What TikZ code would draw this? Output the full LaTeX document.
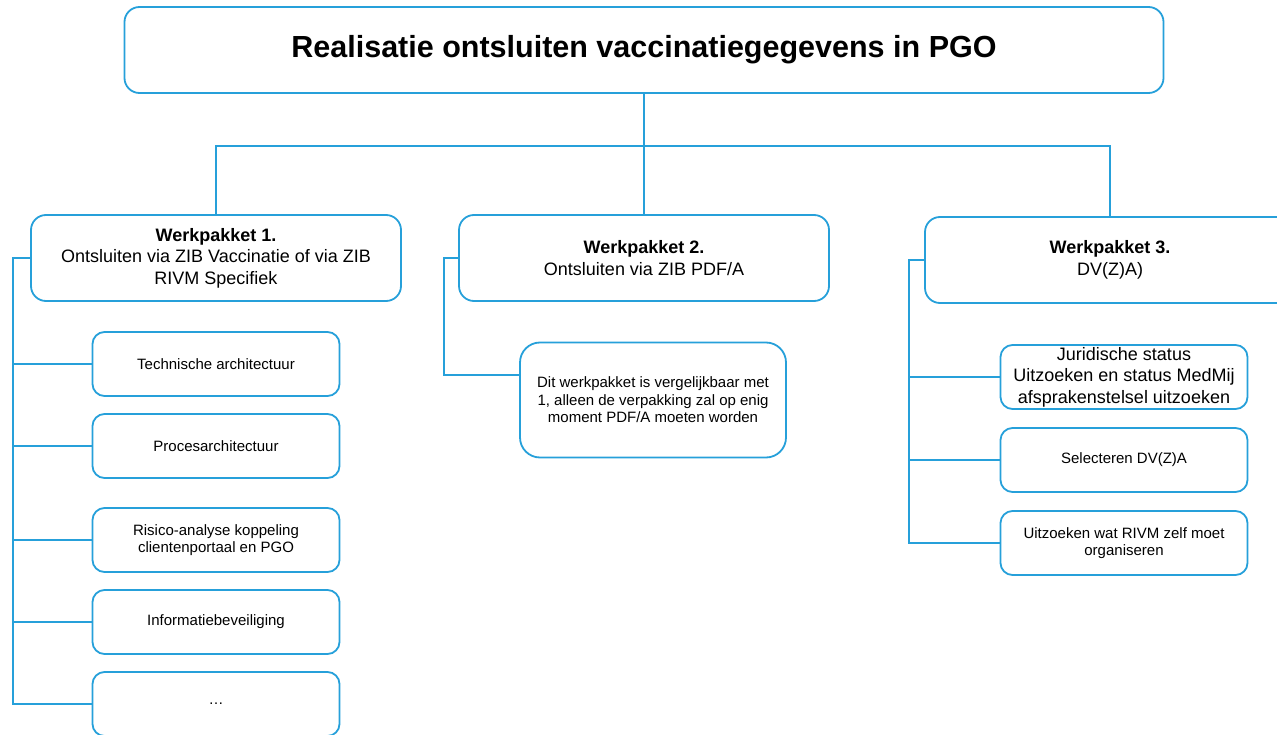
\documentclass[tikz,border=0pt]{standalone}
\usepackage{fontspec}
\setmainfont{Liberation Sans}
\usepackage{xcolor}
\usepackage{tikz}
\definecolor{smartblue}{RGB}{38,160,218}

\begin{document}
\begin{tikzpicture}[x=1pt,y=-1pt,thick,
                      every node/.style={draw=smartblue,line width=1.8pt,fill=white,align=center,inner sep=0pt},
                      title node/.style={rounded corners=15pt,minimum width=1039pt,minimum height=86pt,font=\fontsize{30.5}{36}\selectfont\bfseries},
                      pakket node/.style={rounded corners=15pt,minimum width=370pt,minimum height=86pt,font=\fontsize{18}{21.5}\selectfont},
                      task node/.style={rounded corners=12pt,minimum width=247pt,minimum height=64pt,font=\fontsize{15}{17.5}\selectfont},
                      link/.style={draw=smartblue,line width=1.8pt}]

    \useasboundingbox (0,0) rectangle (1277,735);
    \clip (0,0) rectangle (1277,735);

    % top level
    \node[title node] (title) at (644,50) {Realisatie ontsluiten vaccinatiegegevens in PGO};
    \coordinate (split) at (644,146);

    % werkpakketten
    \node[pakket node] (wp1) at (216,258) {\textbf{Werkpakket 1.}\\Ontsluiten via ZIB Vaccinatie of via ZIB\\RIVM Specifiek};
    \node[pakket node] (wp2) at (644,258) {\textbf{Werkpakket 2.}\\Ontsluiten via ZIB PDF/A};
    \node[pakket node] (wp3) at (1110,260) {\textbf{Werkpakket 3.}\\DV(Z)A)};

    % werkpakket 1
    \node[task node] (t1) at (216,364) {Technische architectuur};
    \node[task node] (t2) at (216,446) {Procesarchitectuur};
    \node[task node] (t3) at (216,540) {Risico-analyse koppeling\\clientenportaal en PGO};
    \node[task node] (t4) at (216,622) {Informatiebeveiliging};
    \node[task node] (t5) at (216,704) {\dots};

    % werkpakket 2
    \node[task node,rounded corners=20pt,minimum width=266pt,minimum height=115pt] (note) at (653,400)
      {Dit werkpakket is vergelijkbaar met\\1, alleen de verpakking zal op enig\\moment PDF/A moeten worden};

    % werkpakket 3
    \node[task node,font=\fontsize{18}{21.5}\selectfont] (j1) at (1124,377) {Juridische status\\Uitzoeken en status MedMij\\afsprakenstelsel uitzoeken};
    \node[task node] (j2) at (1124,460) {Selecteren DV(Z)A};
    \node[task node] (j3) at (1124,543) {Uitzoeken wat RIVM zelf moet\\organiseren};

    \coordinate (bus1) at ([xshift=-17pt]wp1.west);
    \coordinate (bus2) at ([xshift=-14pt]wp2.west);
    \coordinate (bus3) at ([xshift=-15pt]wp3.west);

    \draw[link] (title) -- (split);
    \draw[link] (split) -| (wp1.north);
    \draw[link] (split) -- (wp2.north);
    \draw[link] (split) -| (wp3.north);

    \foreach \t in {t1,t2,t3,t4,t5}
      \draw[link] (wp1.west) -- (bus1) |- (\t.west);
    \draw[link] (wp2.west) -- (bus2) |- ([yshift=25pt]note.west);
    \foreach \t in {j1,j2,j3}
      \draw[link] (wp3.west) -- (bus3) |- (\t.west);

\end{tikzpicture}
\end{document}
